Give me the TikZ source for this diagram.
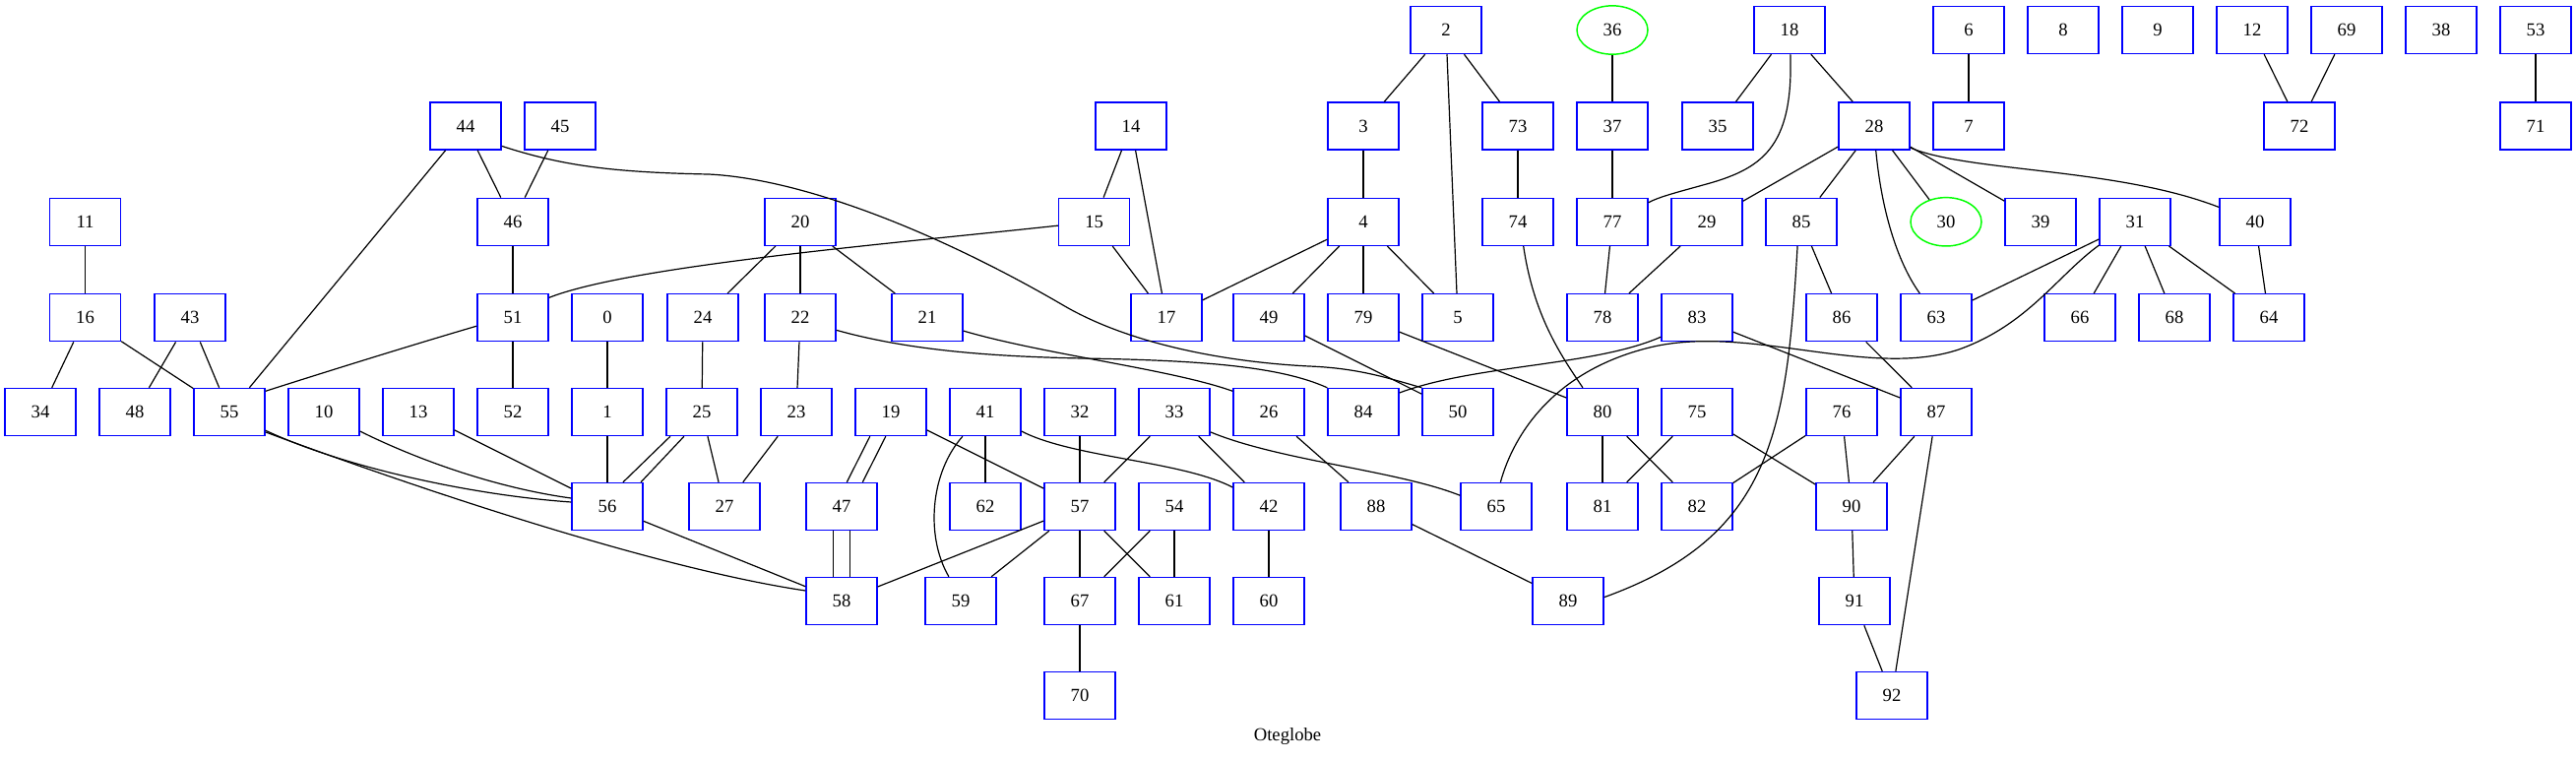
\documentclass[tikz,border=0pt]{standalone}
\usepackage{fontspec}
\setmainfont{Liberation Serif}
\usepackage{tikz}
\usetikzlibrary{shapes.geometric}
\tikzset{
  boxnode/.style={draw=blue, line width=1.1bp, rectangle, minimum width=54bp, minimum height=36bp, inner sep=0pt, font=\fontsize{14bp}{16bp}\selectfont},
  ovalnode/.style={draw=green, line width=1.1bp, ellipse, minimum width=54bp, minimum height=37bp, inner sep=0pt, font=\fontsize{14bp}{16bp}\selectfont},
  link/.style={black, line width=0.9bp}
}
\begin{document}
\begin{tikzpicture}[x=0.75bp,y=-0.75bp]
        \useasboundingbox (0,0) rectangle (2617,772);
        \node[boxnode] (n2) at (1469,30.5) {2};
        \node[ovalnode] (n36) at (1638,30.5) {36};
        \node[boxnode] (n18) at (1818,30.5) {18};
        \node[boxnode] (n6) at (2000,30.5) {6};
        \node[boxnode] (n8) at (2096,30.5) {8};
        \node[boxnode] (n9) at (2192,30.5) {9};
        \node[boxnode] (n12) at (2288,30.5) {12};
        \node[boxnode] (n69) at (2384,30.5) {69};
        \node[boxnode] (n38) at (2480,30.5) {38};
        \node[boxnode] (n53) at (2576,30.5) {53};
        \node[boxnode] (n44) at (473,128) {44};
        \node[boxnode] (n45) at (569,128) {45};
        \node[boxnode] (n14) at (1149,128) {14};
        \node[boxnode] (n3) at (1385,128) {3};
        \node[boxnode] (n73) at (1542,128) {73};
        \node[boxnode] (n37) at (1638,128) {37};
        \node[boxnode] (n35) at (1745,128) {35};
        \node[boxnode] (n28) at (1904,128) {28};
        \node[boxnode] (n7) at (2000,128) {7};
        \node[boxnode] (n72) at (2336,128) {72};
        \node[boxnode] (n71) at (2576,128) {71};
        \node[boxnode] (n11) at (86.5,225.3) {11};
        \node[boxnode] (n46) at (521,225.3) {46};
        \node[boxnode] (n20) at (813,225.3) {20};
        \node[boxnode] (n15) at (1111.6,225.3) {15};
        \node[boxnode] (n4) at (1385,225.3) {4};
        \node[boxnode] (n74) at (1542,225.3) {74};
        \node[boxnode] (n77) at (1638,225.3) {77};
        \node[boxnode] (n29) at (1734,225.3) {29};
        \node[boxnode] (n85) at (1830,225.3) {85};
        \node[ovalnode] (n30) at (1977,225.3) {30};
        \node[boxnode] (n39) at (2073,225.3) {39};
        \node[boxnode] (n31) at (2169,225.3) {31};
        \node[boxnode] (n40) at (2291,225.3) {40};
        \node[boxnode] (n16) at (86.5,322.7) {16};
        \node[boxnode] (n43) at (193,322.7) {43};
        \node[boxnode] (n51) at (521,322.7) {51};
        \node[boxnode] (n0) at (617,322.7) {0};
        \node[boxnode] (n24) at (714,322.7) {24};
        \node[boxnode] (n22) at (813,322.7) {22};
        \node[boxnode] (n21) at (942,322.7) {21};
        \node[boxnode] (n17) at (1185,322.7) {17};
        \node[boxnode] (n49) at (1289,322.7) {49};
        \node[boxnode] (n79) at (1385,322.7) {79};
        \node[boxnode] (n5) at (1481,322.7) {5};
        \node[boxnode] (n78) at (1628,322.7) {78};
        \node[boxnode] (n83) at (1724,322.7) {83};
        \node[boxnode] (n86) at (1871,322.7) {86};
        \node[boxnode] (n63) at (1967,322.7) {63};
        \node[boxnode] (n66) at (2113,322.7) {66};
        \node[boxnode] (n68) at (2209,322.7) {68};
        \node[boxnode] (n64) at (2305,322.7) {64};
        \node[boxnode] (n34) at (41,418.5) {34};
        \node[boxnode] (n48) at (137,418.5) {48};
        \node[boxnode] (n55) at (233,418.5) {55};
        \node[boxnode] (n10) at (329,418.5) {10};
        \node[boxnode] (n13) at (425,418.5) {13};
        \node[boxnode] (n52) at (521,418.5) {52};
        \node[boxnode] (n1) at (617,418.5) {1};
        \node[boxnode] (n25) at (713,418.5) {25};
        \node[boxnode] (n23) at (809,418.5) {23};
        \node[boxnode] (n19) at (905,418.5) {19};
        \node[boxnode] (n41) at (1001,418.5) {41};
        \node[boxnode] (n32) at (1097,418.5) {32};
        \node[boxnode] (n33) at (1193,418.5) {33};
        \node[boxnode] (n26) at (1289,418.5) {26};
        \node[boxnode] (n84) at (1385,418.5) {84};
        \node[boxnode] (n50) at (1481,418.5) {50};
        \node[boxnode] (n80) at (1628,418.5) {80};
        \node[boxnode] (n75) at (1724,418.5) {75};
        \node[boxnode] (n76) at (1871,418.5) {76};
        \node[boxnode] (n87) at (1967,418.5) {87};
        \node[boxnode] (n56) at (617,514.5) {56};
        \node[boxnode] (n27) at (736,514.5) {27};
        \node[boxnode] (n47) at (855,514.5) {47};
        \node[boxnode] (n62) at (1001,514.5) {62};
        \node[boxnode] (n57) at (1097,514.5) {57};
        \node[boxnode] (n54) at (1193,514.5) {54};
        \node[boxnode] (n42) at (1289,514.5) {42};
        \node[boxnode] (n88) at (1398,514.5) {88};
        \node[boxnode] (n65) at (1520,514.5) {65};
        \node[boxnode] (n81) at (1628,514.5) {81};
        \node[boxnode] (n82) at (1724,514.5) {82};
        \node[boxnode] (n90) at (1881,514.5) {90};
        \node[boxnode] (n58) at (855,610.5) {58};
        \node[boxnode] (n59) at (976,610.5) {59};
        \node[boxnode] (n67) at (1097,610.5) {67};
        \node[boxnode] (n61) at (1193,610.5) {61};
        \node[boxnode] (n60) at (1289,610.5) {60};
        \node[boxnode] (n89) at (1593,610.5) {89};
        \node[boxnode] (n91) at (1884,610.5) {91};
        \node[boxnode] (n70) at (1097,706.5) {70};
        \node[boxnode] (n92) at (1922,706.5) {92};
        \node[font=\fontsize{14bp}{16bp}\selectfont] (title) at (1308,748) {Oteglobe};
        \draw[link] (n2) -- (n3);
        \draw[link] (n2) -- (n5);
        \draw[link] (n2) -- (n73);
        \draw[link] (n3) -- (n4);
        \draw[link] (n4) -- (n17);
        \draw[link] (n4) -- (n49);
        \draw[link] (n4) -- (n79);
        \draw[link] (n4) -- (n5);
        \draw[link] (n73) -- (n74);
        \draw[link] (n36) -- (n37);
        \draw[link] (n37) -- (n77);
        \draw[link] (n77) -- (n78);
        \draw[link] (n29) -- (n78);
        \draw[link] (n18) -- (n35);
        \draw[link] (n18) -- (n28);
        \draw[link] (n28) -- (n29);
        \draw[link] (n28) -- (n85);
        \draw[link] (n28) -- (n30);
        \draw[link] (n28) -- (n39);
        \draw[link] (n85) -- (n86);
        \draw[link] (n86) -- (n87);
        \draw[link] (n83) -- (n87);
        \draw[link] (n31) -- (n63);
        \draw[link] (n31) -- (n66);
        \draw[link] (n31) -- (n68);
        \draw[link] (n31) -- (n64);
        \draw[link] (n40) -- (n64);
        \draw[link] (n6) -- (n7);
        \draw[link] (n12) -- (n72);
        \draw[link] (n69) -- (n72);
        \draw[link] (n53) -- (n71);
        \draw[link] (n44) -- (n46);
        \draw[link] (n45) -- (n46);
        \draw[link] (n44) -- (n55);
        \draw[link] (n46) -- (n51);
        \draw[link] (n11) -- (n16);
        \draw[link] (n16) -- (n34);
        \draw[link] (n16) -- (n55);
        \draw[link] (n43) -- (n48);
        \draw[link] (n43) -- (n55);
        \draw[link] (n51) -- (n52);
        \draw[link] (n0) -- (n1);
        \draw[link] (n1) -- (n56);
        \draw[link] (n13) -- (n56);
        \draw[link] (n56) -- (n58);
        \draw[link] (n24) -- (n25);
        \draw[link] (n25) -- (n27);
        \draw[link] (n23) -- (n27);
        \draw[link] (n22) -- (n23);
        \draw[link] (n20) -- (n24);
        \draw[link] (n20) -- (n22);
        \draw[link] (n20) -- (n21);
        \draw[link] (n14) -- (n15);
        \draw[link] (n14) -- (n17);
        \draw[link] (n15) -- (n17);
        \draw[link] (n49) -- (n50);
        \draw[link] (n79) -- (n80);
        \draw[link] (n19) -- (n57);
        \draw[link] (n41) -- (n62);
        \draw[link] (n32) -- (n57);
        \draw[link] (n33) -- (n57);
        \draw[link] (n33) -- (n42);
        \draw[link] (n57) -- (n58);
        \draw[link] (n57) -- (n59);
        \draw[link] (n57) -- (n67);
        \draw[link] (n57) -- (n61);
        \draw[link] (n54) -- (n67);
        \draw[link] (n54) -- (n61);
        \draw[link] (n42) -- (n60);
        \draw[link] (n67) -- (n70);
        \draw[link] (n26) -- (n88);
        \draw[link] (n88) -- (n89);
        \draw[link] (n80) -- (n81);
        \draw[link] (n80) -- (n82);
        \draw[link] (n75) -- (n81);
        \draw[link] (n75) -- (n90);
        \draw[link] (n76) -- (n82);
        \draw[link] (n76) -- (n90);
        \draw[link] (n87) -- (n90);
        \draw[link] (n87) -- (n92);
        \draw[link] (n90) -- (n91);
        \draw[link] (n91) -- (n92);
        \draw[link] ([xshift=3.5bp]n25.south west) -- ([xshift=12bp]n56.north);
        \draw[link] ([xshift=14bp]n25.south west) -- ([xshift=-2bp]n56.north east);
        \draw[link] ([xshift=-15.9bp]n19.south) -- ([xshift=4bp]n47.north);
        \draw[link] ([xshift=-3.9bp]n19.south) -- ([xshift=16bp]n47.north);
        \draw[link] ([xshift=-6.3bp]n47.south) -- ([xshift=-6.3bp]n58.north);
        \draw[link] ([xshift=6.3bp]n47.south) -- ([xshift=6.3bp]n58.north);
        \draw[link] (n44.-29) .. controls (570,168) and (620,175) .. (720,177) .. controls (820,182) and (960,240) .. (1080,310) .. controls (1150,351) and (1250,368) .. (1330,372) .. controls (1380,374) and (1410,384) .. (n50.146);
        \draw[link] (n22.-19) .. controls (920,355) and (1000,362) .. (1100,364) .. controls (1220,366) and (1300,372) .. (n84.146);
        \draw[link] (n21.-20) .. controls (1060,360) and (1190,375) .. (n26.150);
        \draw[link] (n15.186) .. controls (900,248) and (640,270) .. (n51.29);
        \draw[link] (n51.193) .. controls (420,350) and (330,378) .. (n55.30);
        \draw[link] (n55.-27) .. controls (350,475) and (480,503) .. (n56.173);
        \draw[link] (n10.-28) .. controls (420,465) and (500,495) .. (n56.167);
        \draw[link] (n55.-29) .. controls (380,480) and (650,575) .. (n58.164);
        \draw[link] (n41.227) .. controls (945,480) and (940,545) .. (n59.116);
        \draw[link] (n41.-28) .. controls (1090,465) and (1200,468) .. (n42.152);
        \draw[link] (n33.-29) .. controls (1300,468) and (1420,478) .. (n65.163);
        \draw[link] (n18.-88) .. controls (1822,150) and (1790,172) .. (1730,188) .. controls (1705,195) and (1685,200) .. (n77.28);
        \draw[link] (n28.-86) .. controls (1912,220) and (1930,270) .. (n63.124);
        \draw[link] (n28.-31) .. controls (2000,175) and (2150,170) .. (n40.158);
        \draw[link] (n31.213) .. controls (2090,280) and (2060,330) .. (1990,355) .. controls (1900,385) and (1780,330) .. (1680,352) .. controls (1580,375) and (1538,440) .. (n65.80);
        \draw[link] (n83.208) .. controls (1620,372) and (1500,370) .. (n84.28);
        \draw[link] (n74.-77) .. controls (1558,320) and (1585,360) .. (n80.129);
        \draw[link] (n85.-99) .. controls (1815,440) and (1800,545) .. (n89.6);
\end{tikzpicture}
\end{document}
